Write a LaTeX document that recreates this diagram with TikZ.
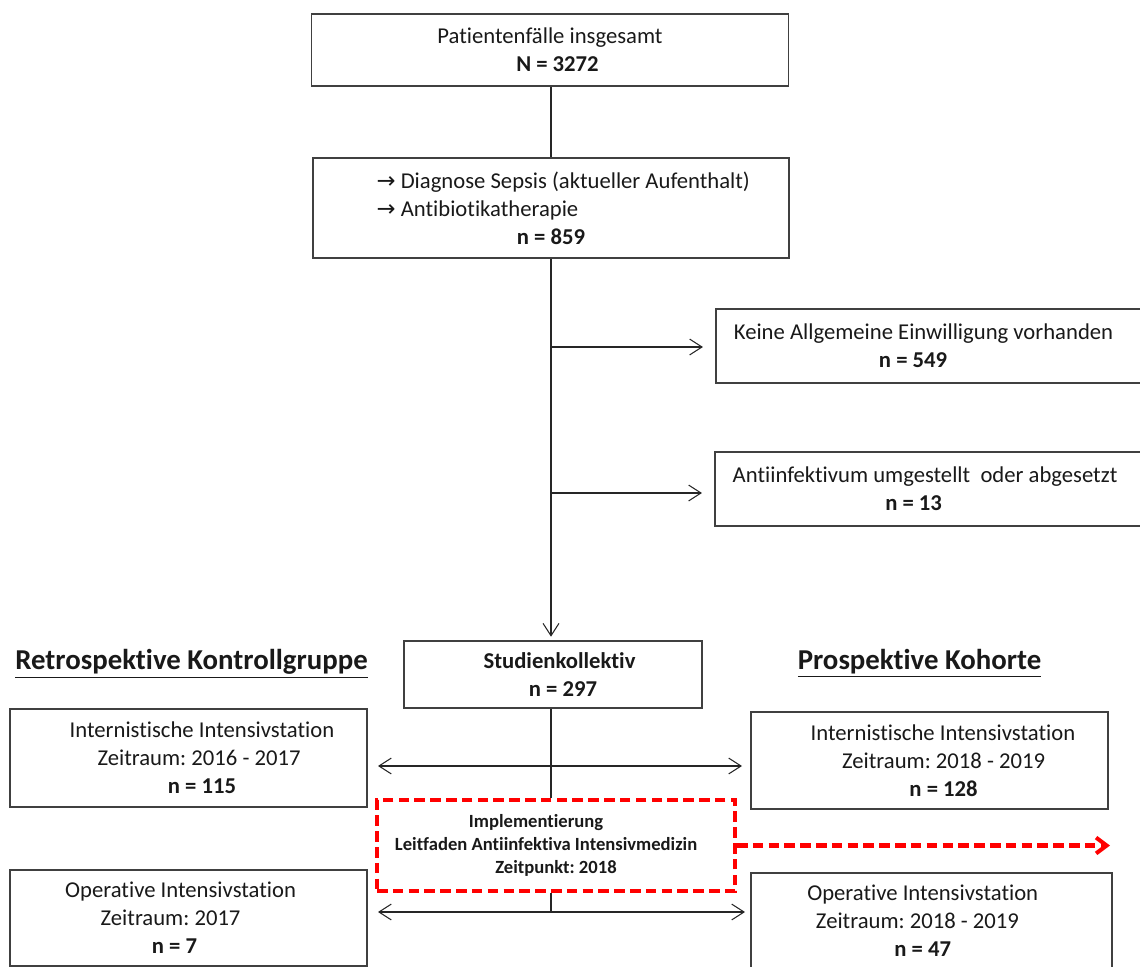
\documentclass[tikz,border=0pt]{standalone}
\usepackage{fontspec}
\setmainfont{Carlito}[Ligatures=NoCommon]
\newfontfamily\arrowfont{DejaVu Sans}
\usetikzlibrary{arrows.meta}
\frenchspacing

% line moved sideways inside a centred box
\newcommand\shiftline[1]{\hspace*{#1}}

\tikzset{
  flowbox/.style = {shape=rectangle, draw=black!75, line width=0.9pt,
    align=center, inner sep=0pt, text=black!90,
    font=\fontsize{12.9}{16}\selectfont},
  flowline/.style = {draw=black!85, line width=0.6pt,
    >={Straight Barb[length=7pt,width=9pt]}},
  redbox/.style = {flowbox, draw=red, line width=2.3pt,
    dash pattern=on 6pt off 3pt,
    font=\fontsize{10.6}{13}\selectfont\bfseries},
  groupname/.style = {font=\fontsize{16.4}{19}\selectfont\bfseries,
    text=black!90, inner sep=0pt}
}

\begin{document}
\begin{tikzpicture}[x=0.02cm, y=-0.02cm]
  \useasboundingbox (0,0) rectangle (1140,967);

  % Auswahl
  \node[flowbox, minimum width=9.54cm, minimum height=1.44cm] (total) at (550,50)
    {Patientenfälle insgesamt\\ \shiftline{8.5pt}\textbf{N = 3272}};
  \node[flowbox, minimum width=9.52cm, minimum height=2cm, align=left] (sepsis) at (551,208)
    {\shiftline{14pt}{\arrowfont →} Diagnose Sepsis (aktueller Aufenthalt)\\
     \shiftline{14pt}{\arrowfont →} Antibiotikatherapie\\
     \null\hfill\textbf{n = 859}\hfill\null};
  \node[flowbox, minimum width=8.68cm, minimum height=1.48cm] (noconsent) at (933,346)
    {\shiftline{-10.8pt}Keine Allgemeine Einwilligung vorhanden\\
     \shiftline{-22.7pt}\textbf{n = 549}};
  \node[flowbox, minimum width=8.7cm, minimum height=1.48cm] (switched) at (932.5,489)
    {\shiftline{-8.5pt}Antiinfektivum umgestellt\ \ oder abgesetzt\\
     \shiftline{-21.5pt}\textbf{n = 13}};
  \node[flowbox, minimum width=5.96cm, minimum height=1.34cm] (study) at (553,674.5)
    {\shiftline{7.4pt}\textbf{Studienkollektiv}\\ \shiftline{11.3pt}\textbf{n = 297}};

  % Gruppen
  \node[groupname] (retro) at (191.5,664) {\underline{Retrospektive Kontrollgruppe}};
  \node[groupname] (pros) at (919.5,663) {\underline{Prospektive Kohorte}};

  \node[flowbox, minimum width=7.14cm, minimum height=1.96cm] (intL) at (188.5,758)
    {\shiftline{15.3pt}Internistische Intensivstation\\
     \shiftline{12pt}Zeitraum: 2016 - 2017\\
     \shiftline{15.3pt}\textbf{n = 115}};
  \node[flowbox, minimum width=7.14cm, minimum height=1.94cm] (intR) at (929.5,760.5)
    {\shiftline{15.3pt}Internistische Intensivstation\\
     \shiftline{16pt}Zeitraum: 2018 - 2019\\
     \shiftline{16pt}\textbf{n = 128}};
  \node[redbox, minimum width=7.16cm, minimum height=1.82cm] (impl) at (556,845.5)
    {\shiftline{-22.7pt}Implementierung\\
     \shiftline{-11.3pt}Leitfaden Antiinfektiva Intensivmedizin\\
     Zeitpunkt: 2018};
  \node[flowbox, minimum width=7.14cm, minimum height=1.92cm] (opL) at (188.5,918)
    {\shiftline{-9pt}Operative Intensivstation\\
     \shiftline{-20.4pt}Zeitraum: 2017\\
     \shiftline{-16pt}\textbf{n = 7}};
  \node[flowbox, minimum width=7.22cm, minimum height=1.9cm] (opR) at (931.5,920.5)
    {\shiftline{-10pt}Operative Intensivstation\\
     \shiftline{-16pt}Zeitraum: 2018 - 2019\\
     \shiftline{-10pt}\textbf{n = 47}};

  \coordinate (split1) at (551,347);
  \coordinate (split2) at (551,493);
  \coordinate (splitB) at (551,912);
  \coordinate (retroA) at (378,766);
  \coordinate (prosA) at (742,766);
  \coordinate (retroB) at (378,912);
  \coordinate (prosB) at (745,912);
  \coordinate (implend) at (1110,845.5);

  % Verbindungen
  \draw[flowline] (total.south -| split1) -- (sepsis.north -| split1);
  \draw[flowline, ->, shorten >=2pt] (sepsis.south -| split1) -- (study.north -| split1);
  \draw[flowline, ->, shorten >=7pt] (split1) -- (split1 -| noconsent.west);
  \draw[flowline, ->, shorten >=7pt] (split2) -- (split2 -| switched.west);
  \draw[flowline] (study.south -| split1) -- (impl.north -| split1);
  \draw[flowline] (impl.south -| split1) -- (splitB);
  \draw[flowline, <->] (retroA) -- (prosA);
  \draw[flowline, <->] (retroB) -- (prosB);
  \draw[draw=red, line width=2.3pt, dash pattern=on 6pt off 3pt,
    -{Straight Barb[length=6pt,width=9pt]}] (impl.east) -- (implend);
\end{tikzpicture}
\end{document}
